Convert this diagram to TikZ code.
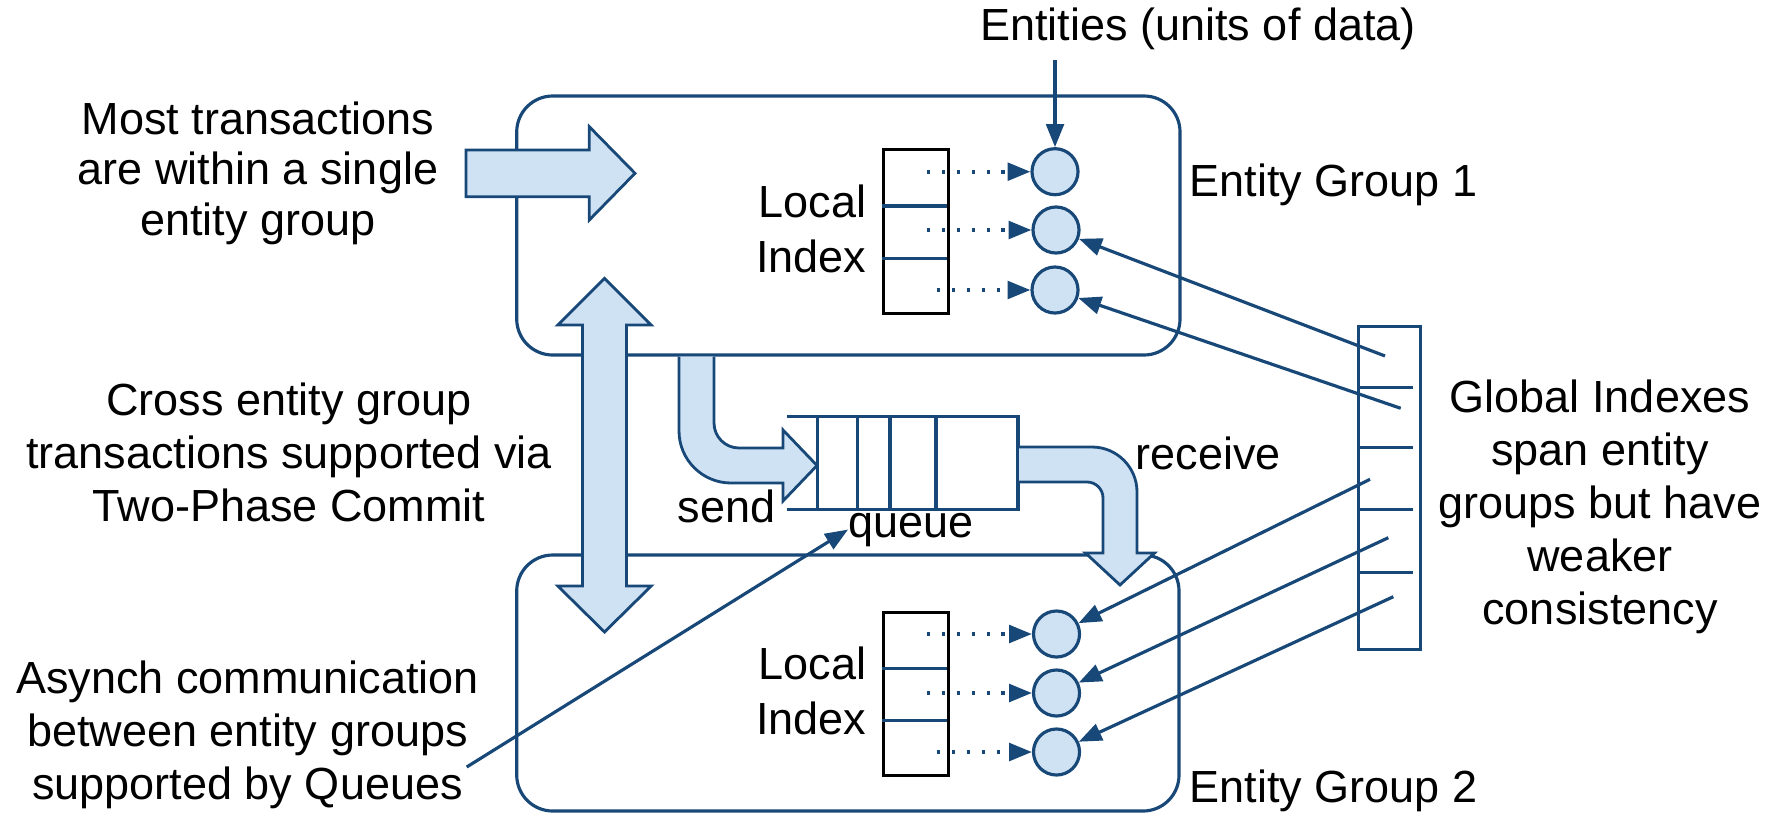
\documentclass[tikz,border=0pt]{standalone}
\usepackage{fontspec}
\setmainfont{Liberation Sans}
\usetikzlibrary{arrows.meta}
\definecolor{dblue}{RGB}{24,72,120}
\definecolor{lblue}{RGB}{207,226,243}
\begin{document}
\begin{tikzpicture}[x=0.01cm,y=-0.01cm,
  txt/.style={font=\fontsize{12.8pt}{14.3pt}\selectfont, inner sep=0pt, align=center},
  grp/.style={draw=dblue, line width=0.9pt, rounded corners=0.36cm},
  ent/.style={circle, draw=dblue, fill=lblue, line width=0.9pt, minimum size=0.46cm, inner sep=0pt},
  bigfill/.style={fill=lblue},
  bigline/.style={draw=dblue, line width=0.8pt, line join=miter},
  ptr/.style={draw=dblue, line width=0.9pt, -{Triangle[length=6.5pt,width=5pt]}},
  dotp/.style={draw=dblue, line width=1.1pt, dash pattern=on 1pt off 3.25pt, -{Triangle[length=6.5pt,width=5pt]}},
  idx/.style={draw=black, line width=0.9pt, inner sep=0pt},
  gidx/.style={draw=dblue, line width=0.9pt, inner sep=0pt},
  divl/.style={draw=dblue, line width=0.9pt},
]
\useasboundingbox (0,0) rectangle (1774,815);

% entity group boxes
\draw[grp] (516.7,96) rectangle (1180,355);
\draw[grp] (516.7,555) rectangle (1179,811);

% local indexes
\node[idx, minimum width=0.65cm, minimum height=1.634cm, anchor=north west] (li1) at (881.7,148.3) {};
\draw[divl] (881.7,206) -- (946.7,206);
\draw[divl] (881.7,258.3) -- (946.7,258.3);
\node[idx, minimum width=0.65cm, minimum height=1.634cm, anchor=north west] (li2) at (881.7,610.6) {};
\draw[divl] (881.7,668.3) -- (946.7,668.3);
\draw[divl] (881.7,720.6) -- (946.7,720.6);

% entities
\node[ent] (t1) at (1055,171.7) {};
\node[ent] (t2) at (1056,230) {};
\node[ent] (t3) at (1055,290) {};
\node[ent] (b1) at (1056.5,634) {};
\node[ent] (b2) at (1056.5,693) {};
\node[ent] (b3) at (1056.5,752) {};

% dotted pointers
\coordinate (d1) at (926.7,171.7);
\coordinate (d2) at (926.7,230);
\coordinate (d3) at (936.7,290);
\coordinate (e1) at (926.7,634);
\coordinate (e2) at (926.7,693);
\coordinate (e3) at (936.7,752);
\draw[dotp] (d1) -- (t1);
\draw[dotp] (d2) -- (t2);
\draw[dotp] (d3) -- (t3);
\draw[dotp] (e1) -- (b1);
\draw[dotp] (e2) -- (b2);
\draw[dotp] (e3) -- (b3);

% global index
\node[gidx, minimum width=0.617cm, minimum height=3.23cm, anchor=north west] (gi) at (1357,325) {};
\draw[divl] (1357,387.7) -- (1412.7,387.7);
\draw[divl] (1357,447.7) -- (1412.7,447.7);
\draw[divl] (1357,509.3) -- (1412.7,509.3);
\draw[divl] (1357,572.3) -- (1412.7,572.3);
\coordinate (g1) at (1385,356);
\coordinate (g2) at (1400.7,408.3);
\coordinate (g3) at (1370,479.3);
\coordinate (g4) at (1388.3,537.7);
\coordinate (g5) at (1393.3,596.7);
\draw[ptr] (g1) -- (t2);
\draw[ptr] (g2) -- (t3);
\draw[ptr] (g3) -- (b1);
\draw[ptr] (g4) -- (b2);
\draw[ptr] (g5) -- (b3);

% queue
\draw[divl] (786.5,416.7) -- (1018,416.7) -- (1018,509.3) -- (786.5,509.3);
\draw[divl] (817.2,416.7) -- (817.2,509.3);
\draw[divl] (857.4,416.7) -- (857.4,509.3);
\draw[divl] (890,416.7) -- (890,509.3);
\draw[divl] (935.9,416.7) -- (935.9,509.3);

% big arrow: into the group
\path[bigfill, bigline] (466,150) -- (589.3,150) -- (589.3,126.7) -- (635,173.3) -- (589.3,220) -- (589.3,196.7) -- (466,196.7) -- cycle;

% big double arrow
\path[bigfill, bigline] (604.5,278.3) -- (651.2,325) -- (626.5,325) -- (626.5,586) -- (651.2,586) -- (604.5,632) -- (557.8,586) -- (582.5,586) -- (582.5,325) -- (557.8,325) -- cycle;

% send arrow
\fill[lblue] (679,356.5) -- (679,431) .. controls (679,459.7) and (702.3,483) .. (731,483) -- (783,483) -- (783,501) -- (817,465.5) -- (783,430) -- (783,448) -- (739,448) .. controls (725.2,448) and (714,436.8) .. (714,423) -- (714,356.5) -- cycle;
\draw[bigline] (679,356.5) -- (679,431) .. controls (679,459.7) and (702.3,483) .. (731,483) -- (783,483) -- (783,501) -- (817,465.5) -- (783,430) -- (783,448) -- (739,448) .. controls (725.2,448) and (714,436.8) .. (714,423) -- (714,356.5);

% receive arrow
\fill[lblue] (1019,447) -- (1092,447) .. controls (1116.8,447) and (1137,467.2) .. (1137,492) -- (1137,553) -- (1154.5,553) -- (1120,585) -- (1085.5,553) -- (1103,553) -- (1103,498) .. controls (1103,489.2) and (1095.8,482) .. (1087,482) -- (1019,482) -- cycle;
\draw[bigline] (1019,447) -- (1092,447) .. controls (1116.8,447) and (1137,467.2) .. (1137,492) -- (1137,553) -- (1154.5,553) -- (1120,585) -- (1085.5,553) -- (1103,553) -- (1103,498) .. controls (1103,489.2) and (1095.8,482) .. (1087,482) -- (1019,482);

% texts
\node[txt] (most) at (258,173.3) {Most transactions\\are within a single\\entity group};
\node[txt, font=\fontsize{12.8pt}{15.06pt}\selectfont] (cross) at (289,452) {Cross entity group\\transactions supported via\\Two-Phase Commit};
\node[txt, font=\fontsize{12.8pt}{15.1pt}\selectfont] (async) at (247.5,735) {Asynch communication\\between entity groups\\supported by Queues};
\node[txt, font=\fontsize{12.8pt}{15.1pt}\selectfont] (glob) at (1600,507) {Global Indexes\\span entity\\groups but have\\weaker\\consistency};
\node[txt, font=\fontsize{12.8pt}{15.6pt}\selectfont, align=right, anchor=east] (loc1) at (867,229.3) {Local\\Index};
\node[txt, font=\fontsize{12.8pt}{15.6pt}\selectfont, align=right, anchor=east] (loc2) at (867,691.3) {Local\\Index};
\node[txt, anchor=base] (enttl) at (1198,40) {Entities (units of data)};
\node[txt, anchor=base west] (eg1) at (1189,196.7) {Entity Group 1};
\node[txt, anchor=base west] (eg2) at (1189,802) {Entity Group 2};
\node[txt, anchor=base west] (send) at (677,522.7) {send};
\node[txt, anchor=base west] (queue) at (848,537) {queue};
\node[txt, anchor=base west] (recv) at (1135,469.3) {receive};

% label pointers
\coordinate (qa) at (466.7,767);
\draw[ptr] (qa) -- (queue.west);
\draw[ptr] ([yshift=-0.1cm]enttl.south -| t1.north) -- (t1.north);
\end{tikzpicture}
\end{document}
